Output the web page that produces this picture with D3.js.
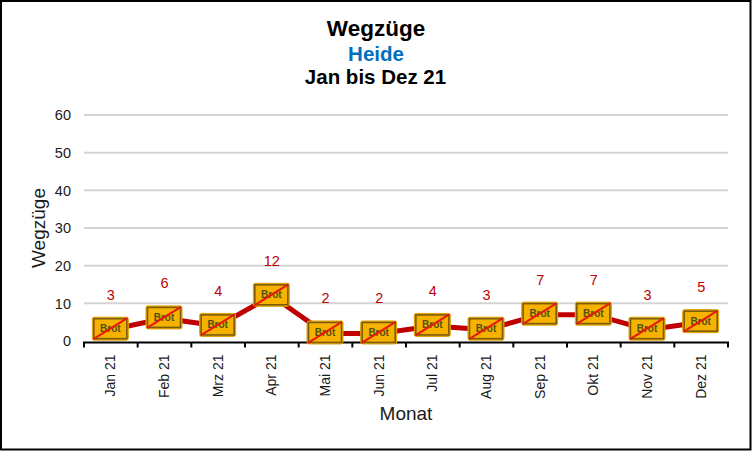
<!DOCTYPE html>
<html><head><meta charset="utf-8">
<script src="https://cdn.jsdelivr.net/npm/d3@7"></script>
<style>
html,body{margin:0;padding:0;background:#fff}
svg{display:block}
text{font-family:"Liberation Sans",Arial,sans-serif}
</style></head><body>
<svg id="c" width="752" height="451"></svg>
<script>
const months=["Jan 21","Feb 21","Mrz 21","Apr 21","Mai 21","Jun 21","Jul 21","Aug 21","Sep 21","Okt 21","Nov 21","Dez 21"];
const values=[3,6,4,12,2,2,4,3,7,7,3,5];
const yTicks=[0,10,20,30,40,50,60];
const titles=["Wegzüge","Heide","Jan bis Dez 21"];
const svg=d3.select("#c");
const W=752,H=451;
svg.append("rect").attr("x",1).attr("y",1).attr("width",W-2.5).attr("height",H-2.5).attr("fill","#fff").attr("stroke","#000").attr("stroke-width",2);
const x=d3.scaleBand().domain(months).range([84,728]);
const y=d3.scaleLinear().domain([0,60]).range([341,115]);
svg.append("g").selectAll("line").data(yTicks.filter(d=>d>0)).join("line")
 .attr("x1",84).attr("x2",728).attr("y1",d=>y(d)).attr("y2",d=>y(d))
 .attr("stroke","#d4d4d4").attr("stroke-width",2);
svg.append("g").selectAll("text").data(yTicks).join("text")
 .attr("x",71).attr("y",d=>y(d)).attr("dy","0.36em").attr("text-anchor","end")
 .attr("font-size",14.5).attr("fill","#1a1a1a").text(d=>d);
const ax=svg.append("g").attr("transform","translate(0,342.5)");
ax.append("path").attr("d",d3.line()([[84,5],[84,0],[728,0],[728,5]])).attr("fill","none").attr("stroke","#000").attr("stroke-width",2);
ax.selectAll("line").data(months.slice(1)).join("line")
 .attr("x1",d=>x(d)).attr("x2",d=>x(d)).attr("y1",0).attr("y2",5).attr("stroke","#000").attr("stroke-width",2);
ax.selectAll("text").data(months).join("text")
 .attr("transform",d=>`translate(${x(d)+x.bandwidth()/2+4.5},12) rotate(-90)`)
 .attr("text-anchor","end").attr("font-size",14).attr("fill","#1a1a1a").text(d=>d);
const cx=d=>x(d)+x.bandwidth()/2;
const line=d3.line().x((d,i)=>cx(months[i])).y(d=>y(d));
svg.append("path").datum(values).attr("d",line).attr("fill","none").attr("stroke","#c00000").attr("stroke-width",5);
const bw=36,bh=23;
const m=svg.append("g").selectAll("g").data(values).join("g")
 .attr("transform",(d,i)=>`translate(${cx(months[i])-0.5},${y(d)-1})`);
m.append("rect").attr("x",-bw/2).attr("y",-bh/2).attr("width",bw).attr("height",bh).attr("rx",2)
 .attr("fill","#f7b200").attr("stroke","#e0a000").attr("stroke-width",1);
m.append("rect").attr("x",-bw/2+1.5).attr("y",-bh/2+1.5).attr("width",bw-3).attr("height",bh-3)
 .attr("fill","none").attr("stroke","#7a5c10").attr("stroke-width",1.6);
m.append("text").attr("text-anchor","middle").attr("dy","0.35em").attr("font-size",10).attr("font-weight","bold")
 .attr("fill","#4f5210").text("Brot");
m.append("line").attr("x1",-bw/2+1).attr("y1",bh/2-1).attr("x2",bw/2-1).attr("y2",-bh/2+1)
 .attr("stroke","#e8190c").attr("stroke-width",2);
svg.append("g").selectAll("text").data(values).join("text")
 .attr("x",(d,i)=>cx(months[i])).attr("y",d=>y(d)-30)
 .attr("text-anchor","middle").attr("font-size",14.5).attr("fill","#c00000").text(d=>d);
svg.append("text").attr("x",376).attr("y",36).attr("text-anchor","middle").attr("font-size",22.5).attr("font-weight","bold").attr("fill","#000").text(titles[0]);
svg.append("text").attr("x",376).attr("y",61).attr("text-anchor","middle").attr("font-size",20.5).attr("font-weight","bold").attr("fill","#0070c0").text(titles[1]);
svg.append("text").attr("x",375.5).attr("y",84).attr("text-anchor","middle").attr("font-size",20.5).attr("font-weight","bold").attr("fill","#000").text(titles[2]);
svg.append("text").attr("transform","translate(45,228) rotate(-90)").attr("text-anchor","middle").attr("font-size",19).attr("fill","#1a1a1a").text("Wegzüge");
svg.append("text").attr("x",406).attr("y",420).attr("text-anchor","middle").attr("font-size",19).attr("fill","#1a1a1a").text("Monat");
</script></body></html>
